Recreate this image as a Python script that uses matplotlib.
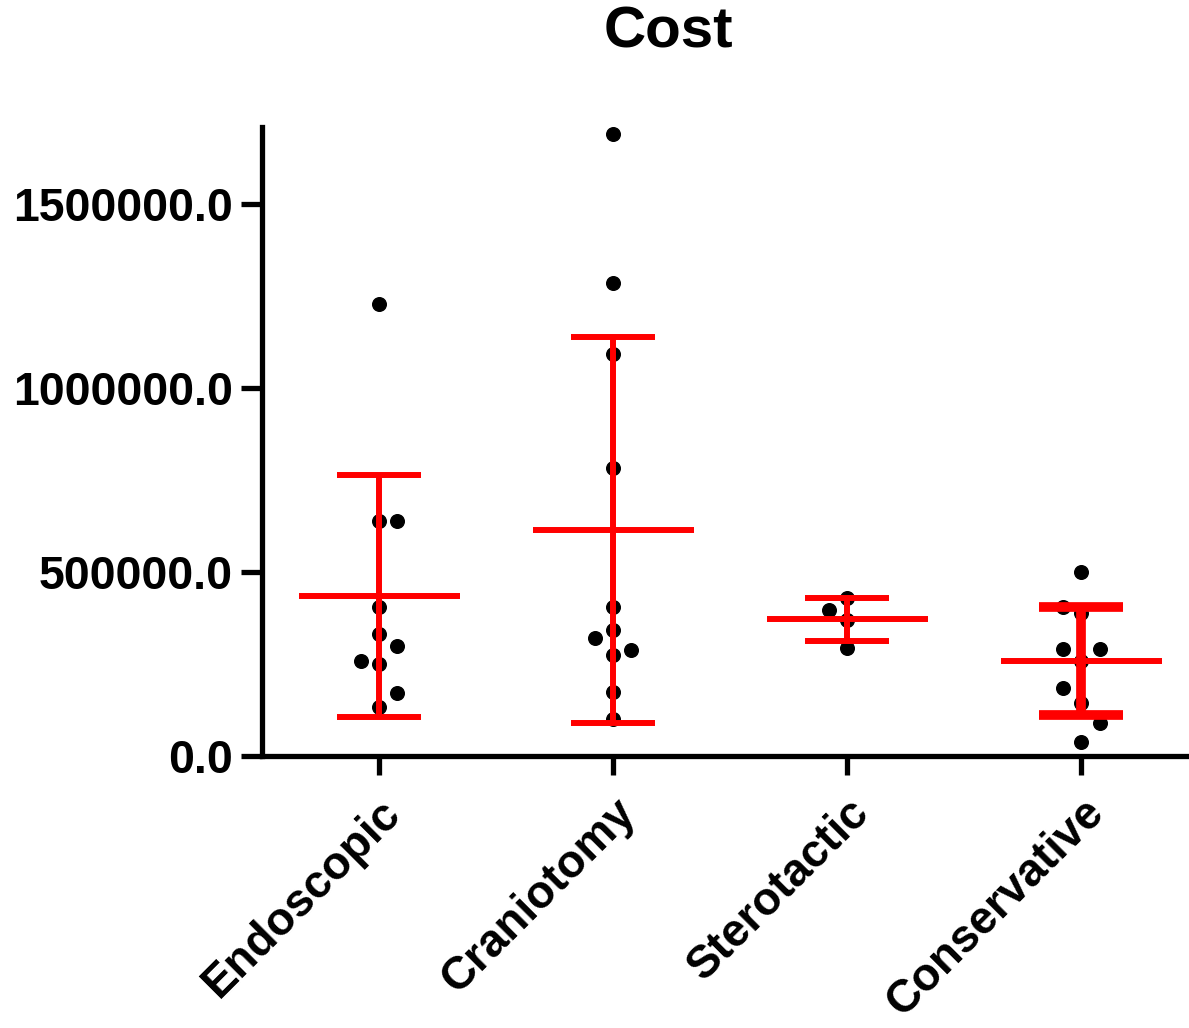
import numpy as np
import matplotlib.pyplot as plt

plt.rcParams['font.family'] = ['Liberation Sans', 'DejaVu Sans']
plt.rcParams['font.weight'] = 'bold'

groups = ['Endoscopic', 'Craniotomy', 'Sterotactic', 'Conservative']

# cost of each patient
endoscopic = [1230000, 639000, 639000, 404000, 331500, 299000, 259000, 250000, 170000, 132000]
craniotomy = [1691000, 1286400, 1094000, 783400, 404600, 342400, 322000, 289400, 274700, 172800, 101600]
sterotactic = [428400, 396700, 369600, 292600]
conservative = [500900, 405800, 387700, 291700, 289900, 258000, 183900, 143100, 88800, 38900]

# column slot of each dot (-1 left, 0 centre, 1 right), same order as above
endoscopic_slot = [0, 0, 1, 0, 0, 1, -1, 0, 1, 0]
craniotomy_slot = [0, 0, 0, 0, 0, 0, -1, 1, 0, 0, 0]
sterotactic_slot = [0, -1, 0, 0]
conservative_slot = [0, -1, 0, -1, 1, 0, -1, 0, 1, 0]

values = [endoscopic, craniotomy, sterotactic, conservative]
slots = [endoscopic_slot, craniotomy_slot, sterotactic_slot, conservative_slot]

fig = plt.figure(figsize=(11.89, 10.28), dpi=100)
ax = fig.add_axes([0.2204, 0.2646, 0.7796, 0.6119])

red = '#ff0000'
for i, (v, s) in enumerate(zip(values, slots)):
    v = np.array(v, dtype=float)
    x = i + 0.078 * np.array(s)
    ax.plot(x, v, 'o', color='black', ms=9.8, zorder=2, clip_on=False)
    m = v.mean()
    sd = v.std(ddof=1)
    # Conservative bars come out thicker in the original
    elw = 7 if i == 3 else 4.3
    ax.hlines(m, i - 0.344, i + 0.344, color=red, lw=4.3, zorder=3)
    ax.vlines(i, m - sd, m + sd, color=red, lw=elw, zorder=3)
    ax.hlines([m - sd, m + sd], i - 0.18, i + 0.18, color=red, lw=elw, zorder=3)

ax.set_xlim(-0.5, 3.46)
ax.set_ylim(0, 1710000)
ax.set_yticks([0, 500000, 1000000, 1500000])
ax.set_yticklabels(['%.1f' % t for t in [0, 500000, 1000000, 1500000]])
ax.set_xticks(range(len(groups)))
ax.set_xticklabels(groups, rotation=45, ha='right', va='top', rotation_mode='anchor')

for side in ['top', 'right']:
    ax.spines[side].set_visible(False)
for side in ['left', 'bottom']:
    ax.spines[side].set_linewidth(3.8)
ax.tick_params(axis='y', length=15, width=3.8, labelsize=33.5, pad=6)
ax.tick_params(axis='x', length=14, width=3.8, labelsize=33, pad=11)

fig.text(0.562, 0.968, 'Cost', ha='center', va='center', fontsize=42, fontweight='bold')

fig.savefig('out.png', dpi=100)
